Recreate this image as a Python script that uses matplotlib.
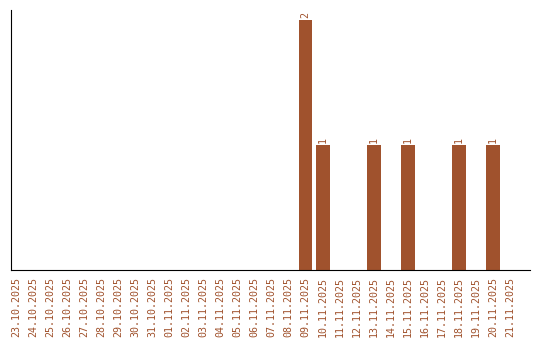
import matplotlib
matplotlib.use("Agg")
import matplotlib.pyplot as plt

dates = ["23.10.2025", "24.10.2025", "25.10.2025", "26.10.2025", "27.10.2025",
         "28.10.2025", "29.10.2025", "30.10.2025", "31.10.2025", "01.11.2025",
         "02.11.2025", "03.11.2025", "04.11.2025", "05.11.2025", "06.11.2025",
         "07.11.2025", "08.11.2025", "09.11.2025", "10.11.2025", "11.11.2025",
         "12.11.2025", "13.11.2025", "14.11.2025", "15.11.2025", "16.11.2025",
         "17.11.2025", "18.11.2025", "19.11.2025", "20.11.2025", "21.11.2025"]
counts = [0, 0, 0, 0, 0, 0, 0, 0, 0, 0,
          0, 0, 0, 0, 0, 0, 0, 2, 1, 0,
          0, 1, 0, 1, 0, 0, 1, 0, 1, 0]

color = "#A0522D"
font = "DejaVu Sans Mono"
fs = 7.2

fig = plt.figure(figsize=(5.4, 3.4), dpi=100)
ax = fig.add_axes([11 / 540, 70 / 340, 519 / 540, 260 / 340])

x = list(range(len(dates)))
ax.bar(x, counts, width=0.8, color=color)
for xi, v in zip(x, counts):
    if v > 0:
        ax.text(xi, v + 0.015, str(v), rotation=90, ha="center", va="bottom",
                fontsize=fs, family=font, color=color)

ax.set_xlim(-0.3, len(dates) - 1 + 1.17)
ax.set_ylim(0, 2.08)
ax.set_xticks(x)
ax.set_xticklabels(dates, rotation=90, fontsize=fs, family=font, color=color)
ax.tick_params(axis="x", length=0, pad=5)
ax.set_yticks([])
ax.spines["top"].set_visible(False)
ax.spines["right"].set_visible(False)

fig.savefig("out.png", dpi=100)
